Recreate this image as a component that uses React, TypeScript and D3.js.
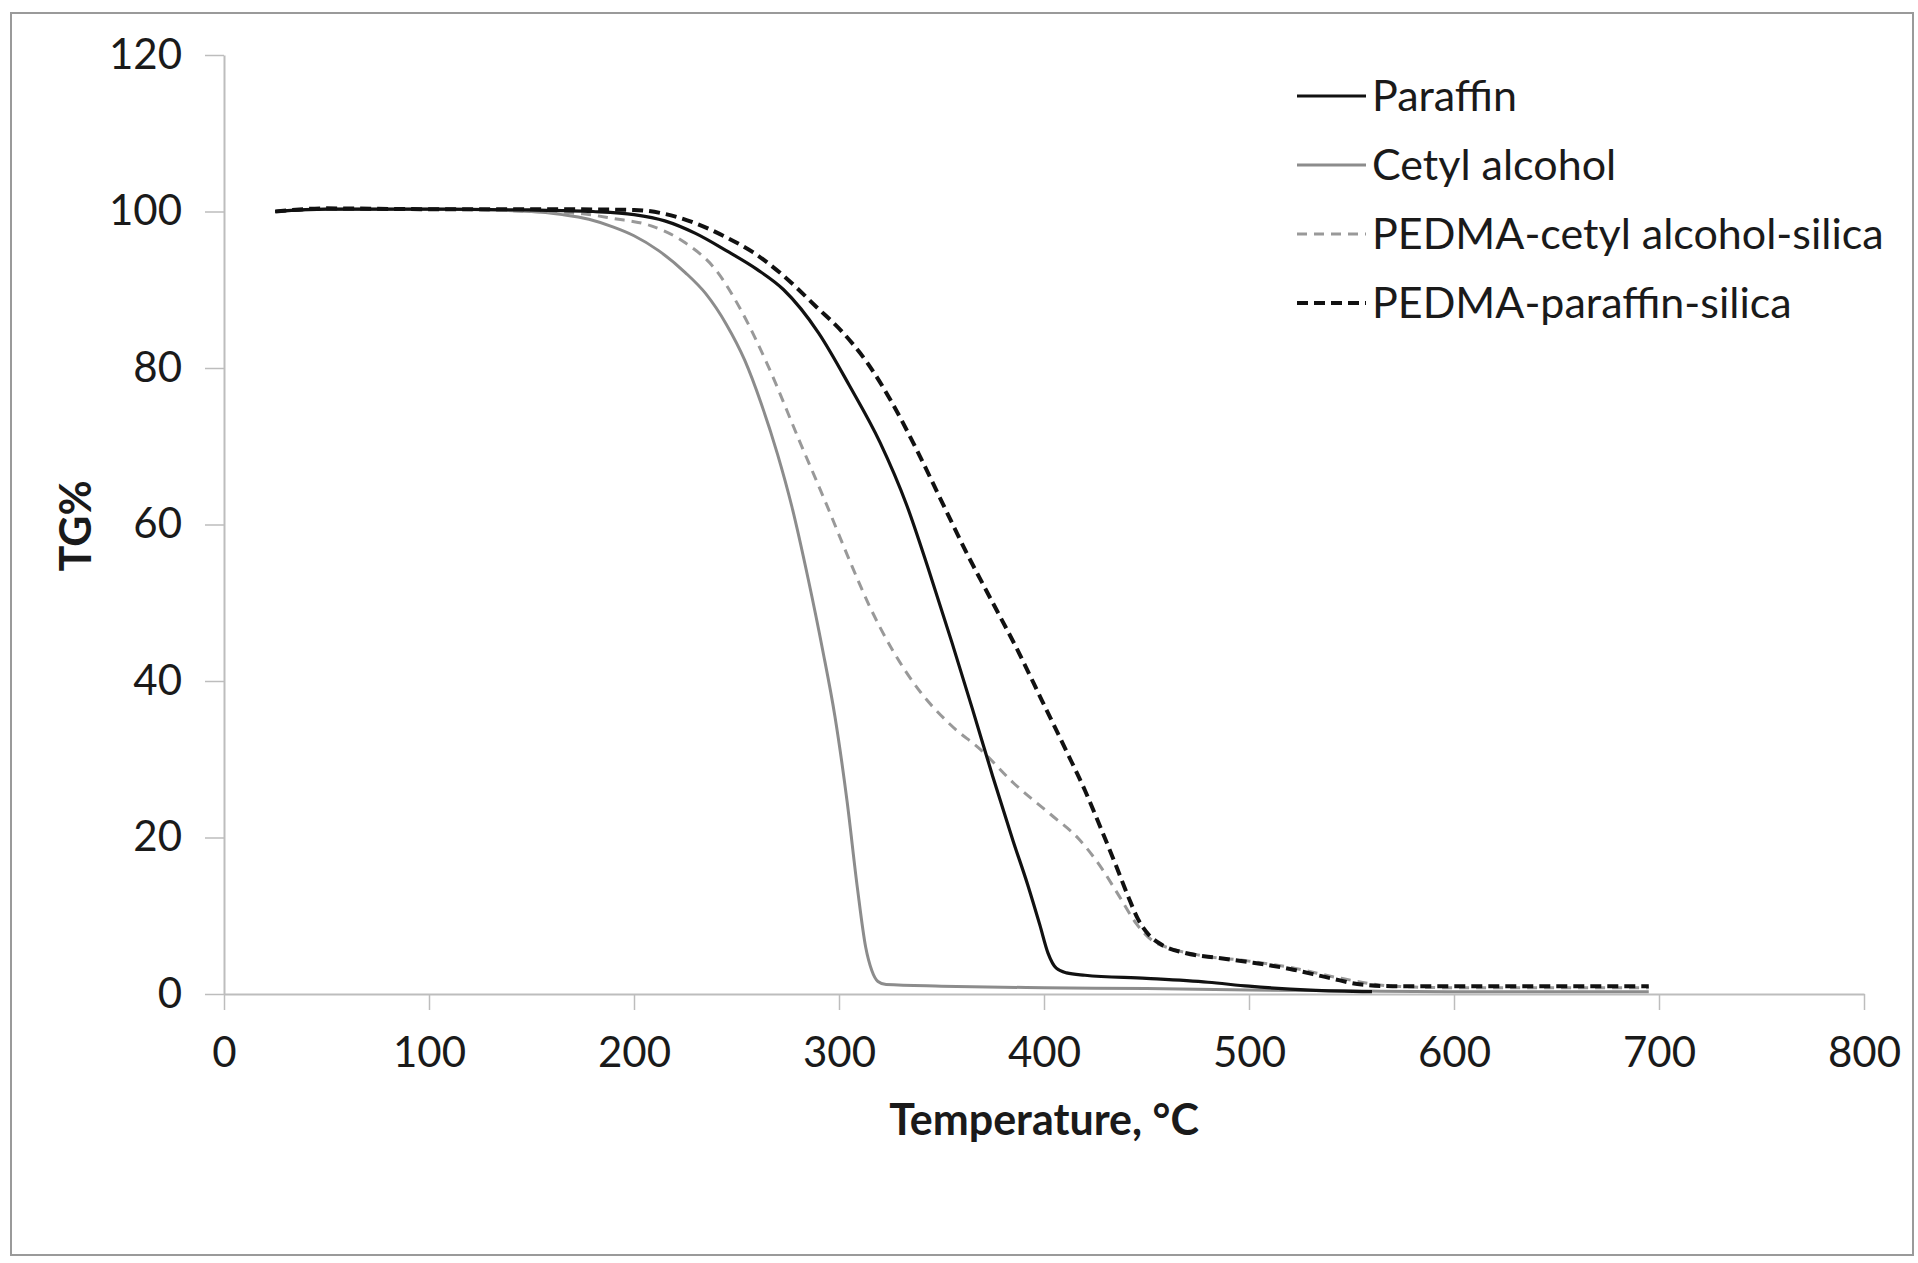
import { useEffect, useRef } from 'react';
import * as d3 from 'd3';

// TG curves: [temperature °C, TG %]
const paraffin: [number, number][] = [
    [25, 100], [50, 100.3], [100, 100.3], [150, 100.2], [180, 100], [200, 99.6], [215, 98.8],
    [230, 97.2], [245, 95], [260, 92.6], [273, 90], [290, 84.5], [305, 77.8], [320, 70.5],
    [333, 62.5], [344, 54], [355, 45], [365, 36.5], [375, 27.8], [385, 19.5], [392, 14],
    [398, 8.8], [402, 5.2], [406, 3.3], [411, 2.7], [420, 2.4], [450, 2.0], [480, 1.5],
    [500, 1.0], [530, 0.5], [560, 0.3],
];

const cetylAlcohol: [number, number][] = [
    [25, 100], [50, 100.3], [100, 100.3], [150, 100], [165, 99.6], [178, 99], [190, 98],
    [200, 96.9], [212, 95], [225, 92.2], [235, 89.5], [245, 85.6], [254, 81], [262, 75.5],
    [270, 69], [277, 62.3], [285, 53], [292, 44], [298, 35.5], [304, 24.5], [309, 13.5],
    [313, 6], [316, 3], [319, 1.6], [323, 1.2], [350, 1.0], [400, 0.8], [450, 0.7],
    [500, 0.5], [550, 0.4], [600, 0.3], [650, 0.3], [695, 0.3],
];

const pedmaCetyl: [number, number][] = [
    [25, 100], [50, 100.3], [100, 100.3], [150, 100], [175, 99.7], [190, 99.1], [208, 98.2],
    [225, 96], [240, 92.5], [253, 87], [265, 80.5], [281, 70.5], [294, 62.5], [305, 55.5],
    [315, 49.5], [326, 44], [340, 38.5], [354, 34.5], [370, 31], [385, 27], [403, 23],
    [417, 19.8], [427, 16.5], [436, 12.8], [445, 9], [453, 6.8], [462, 5.8], [475, 5],
    [500, 4.2], [520, 3.4], [545, 2], [570, 1], [600, 0.8], [650, 0.8], [695, 0.8],
];

const pedmaParaffin: [number, number][] = [
    [25, 100], [50, 100.4], [100, 100.3], [150, 100.3], [200, 100.2], [215, 99.7], [230, 98.5],
    [245, 96.7], [258, 94.8], [272, 92], [289, 87.8], [302, 84.5], [314, 80.6], [326, 75.5],
    [338, 69.5], [350, 63], [362, 56.5], [375, 50], [387, 44], [399, 37.5], [411, 31],
    [420, 26], [428, 21], [435, 16.5], [441, 12.5], [446, 9.5], [451, 7.6], [458, 6.2],
    [468, 5.3], [485, 4.6], [502, 4], [520, 3.2], [540, 2], [555, 1.2], [570, 1], [600, 1],
    [650, 1], [695, 1],
];

const xTicks = [0, 100, 200, 300, 400, 500, 600, 700, 800];
const yTicks = [0, 20, 40, 60, 80, 100, 120];

const series = [
    { name: 'Paraffin', data: paraffin, color: '#111111', width: 3.2, dash: null },
    { name: 'Cetyl alcohol', data: cetylAlcohol, color: '#8c8c8c', width: 3, dash: null },
    { name: 'PEDMA-cetyl alcohol-silica', data: pedmaCetyl, color: '#999999', width: 3, dash: '10,7' },
    { name: 'PEDMA-paraffin-silica', data: pedmaParaffin, color: '#111111', width: 4, dash: '11,6' },
];

const FONT = 'Lato, "Open Sans", sans-serif';

const App = () => {
    const ref = useRef<SVGSVGElement>(null);
    const width = 1918,
        height = 1263;

    useEffect(() => {
        const svg = d3.select(ref.current).attr('width', width).attr('height', height);
        svg.selectAll('*').remove();

        svg.append('rect')
            .attr('width', width)
            .attr('height', height)
            .attr('fill', '#ffffff');

        // outer chart border
        svg.append('rect')
            .attr('x', 11)
            .attr('y', 13)
            .attr('width', 1902)
            .attr('height', 1242)
            .attr('fill', 'none')
            .attr('stroke', '#9a9a9a')
            .attr('stroke-width', 2);

        const x = d3.scaleLinear().domain([0, 800]).range([224, 1864]);
        const y = d3.scaleLinear().domain([0, 120]).range([994, 55]);

        // x axis
        const xAxis = svg.append('g').attr('transform', `translate(0,${y(0)})`).call(
            d3.axisBottom(x).tickValues(xTicks).tickSize(16).tickPadding(27).tickSizeOuter(0)
        );
        // y axis
        const yAxis = svg.append('g').attr('transform', `translate(${x(0)},0)`).call(
            d3.axisLeft(y).tickValues(yTicks).tickSize(19).tickPadding(23).tickSizeOuter(0)
        );

        [xAxis, yAxis].forEach((g) => {
            g.select('.domain').attr('stroke', '#bdbdbd').attr('stroke-width', 2);
            g.selectAll('.tick line').attr('stroke', '#bdbdbd').attr('stroke-width', 1.5);
            g.selectAll('.tick text')
                .attr('fill', '#1a1a1a')
                .style('font-family', FONT)
                .style('font-size', '42px');
        });

        // axis titles
        svg.append('text')
            .attr('x', 1044)
            .attr('y', 1135)
            .attr('text-anchor', 'middle')
            .style('font-family', FONT)
            .style('font-size', '43px')
            .style('font-weight', 'bold')
            .attr('fill', '#1a1a1a')
            .text('Temperature, °C');

        svg.append('text')
            .attr('transform', 'translate(91,526) rotate(-90)')
            .attr('text-anchor', 'middle')
            .style('font-family', FONT)
            .style('font-size', '43px')
            .style('font-weight', 'bold')
            .attr('fill', '#1a1a1a')
            .text('TG%');

        const line = d3
            .line<[number, number]>()
            .x((d) => x(d[0]))
            .y((d) => y(d[1]))
            .curve(d3.curveMonotoneX);

        const lines = svg.append('g').attr('class', 'lines');
        // draw grey curves first so the black ones sit on top
        [series[1], series[2], series[0], series[3]].forEach((s) => {
            lines.append('path')
                .attr('d', line(s.data))
                .attr('fill', 'none')
                .attr('stroke', s.color)
                .attr('stroke-width', s.width)
                .attr('stroke-dasharray', s.dash)
                .attr('stroke-linejoin', 'round');
        });

        // legend
        const legend = svg.append('g').attr('class', 'legend');
        series.forEach((s, i) => {
            const ly = 96 + i * 69;
            legend.append('line')
                .attr('x1', 1297)
                .attr('x2', 1366)
                .attr('y1', ly)
                .attr('y2', ly)
                .attr('stroke', s.color)
                .attr('stroke-width', s.width)
                .attr('stroke-dasharray', s.dash);
            legend.append('text')
                .attr('x', 1372)
                .attr('y', ly)
                .attr('dy', '0.35em')
                .style('font-family', FONT)
                .style('font-size', '43px')
                .attr('fill', '#1a1a1a')
                .text(s.name);
        });
    }, []);

    return (
        <div style={{ position: 'absolute', left: 0, top: 0 }}>
            <svg ref={ref}></svg>
        </div>
    );
};

export default App;
